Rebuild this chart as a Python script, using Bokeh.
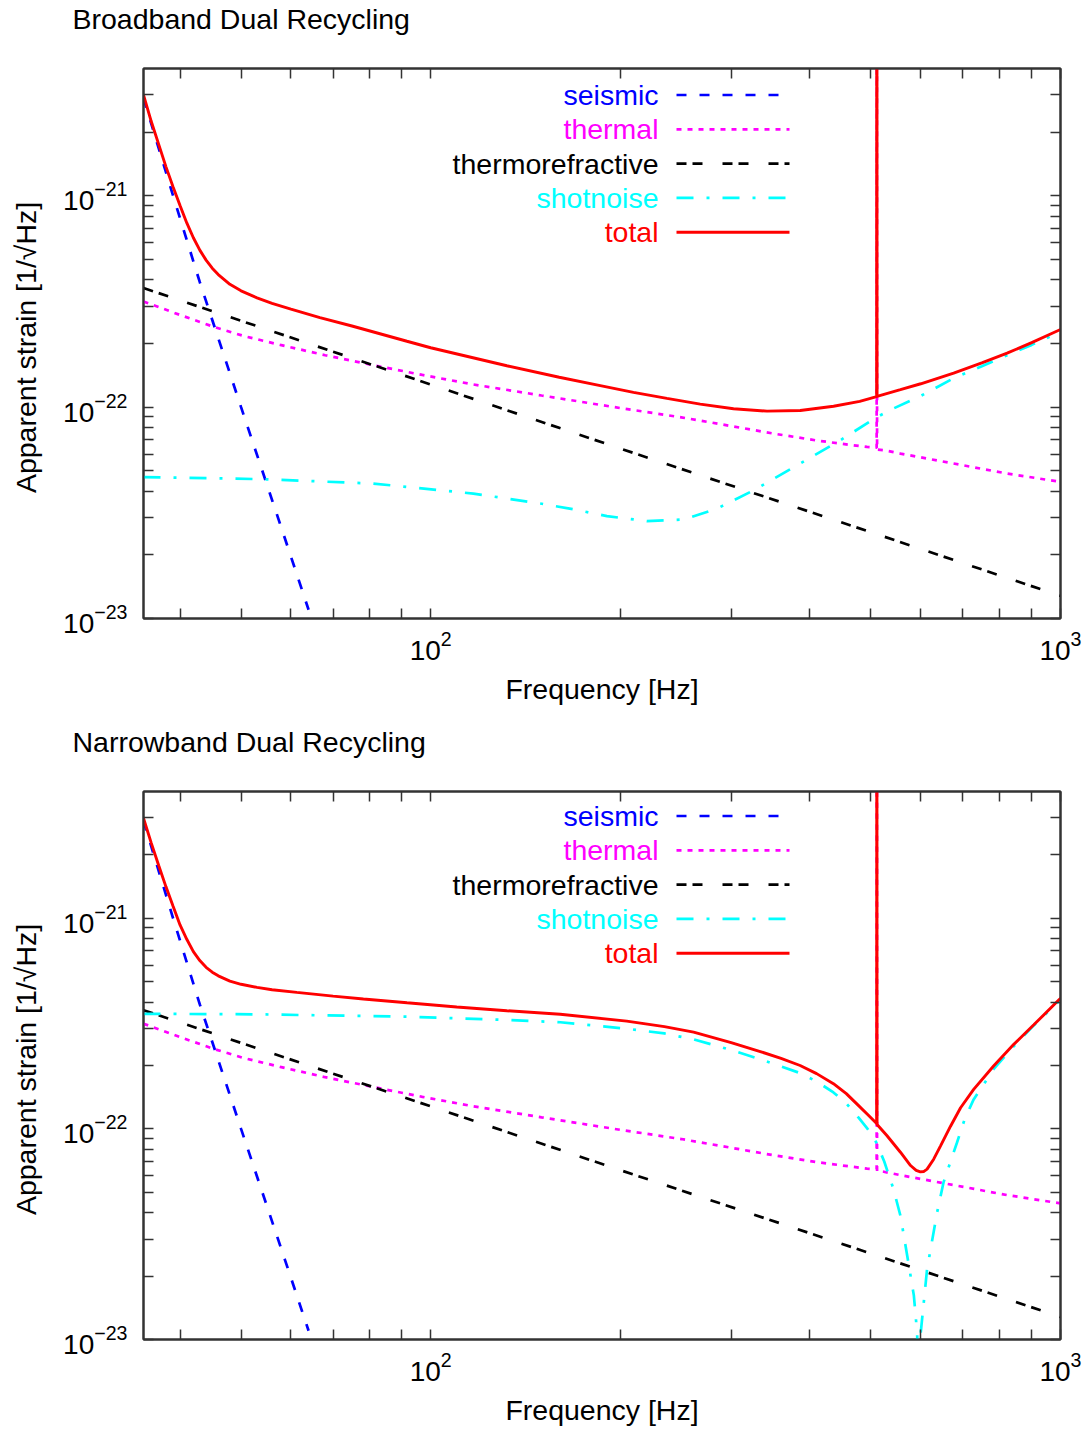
from bokeh.plotting import figure
from bokeh.models import FixedTicker, LogAxis, Label, Arrow, Range1d
from bokeh.layouts import column
from bokeh.embed import file_html
from bokeh.resources import INLINE

# ---------------- data ----------------
freq_min, freq_max = 35, 1000
strain_min, strain_max = 1e-23, 4e-21

x_major_ticks = [100, 1000]
x_minor_ticks = [40, 50, 60, 70, 80, 90, 200, 300, 400, 500, 600, 700, 800, 900]
y_major_ticks = [1e-23, 1e-22, 1e-21]
y_minor_ticks = [2e-23, 3e-23, 4e-23, 5e-23, 6e-23, 7e-23, 8e-23, 9e-23,
                 2e-22, 3e-22, 4e-22, 5e-22, 6e-22, 7e-22, 8e-22, 9e-22,
                 2e-21, 3e-21]

# common noise sources (identical in both panels)
seismic_f = [35, 39, 43, 50, 58.7, 64]
seismic_h = [2.9e-21, 1.0e-21, 3.9e-22, 1.0e-22, 2.39e-23, 1.1e-23]

thermal_f = [35, 40, 45.2, 50.5, 57.7, 68, 81.1, 97, 116.9, 150, 200, 250, 302.6,
             350, 410.6, 460, 493, 510.6, 511, 511.4, 524, 557, 676.6, 822.7, 1000]
thermal_h = [3.16e-22, 2.73e-22, 2.40e-22, 2.17e-22, 1.97e-22, 1.76e-22, 1.58e-22,
             1.42e-22, 1.28e-22, 1.135e-22, 9.9e-23, 8.95e-23, 8.1e-23, 7.5e-23,
             6.95e-23, 6.65e-23, 6.48e-23, 6.43e-23, 1e-19, 6.3e-23, 6.26e-23,
             6.03e-23, 5.41e-23, 4.85e-23, 4.43e-23]

tr_f = [35, 100, 200, 500, 1000]
tr_h = [3.66e-22, 1.28e-22, 6.37e-23, 2.56e-23, 1.28e-23]

# broadband dual recycling
shot_bb_f = [35, 54.3, 81.1, 116.9, 149.3, 170, 190.5, 220.4, 252, 284.8, 325.6,
             386.2, 447.1, 511, 543.3, 600, 676.6, 750, 822.7, 900, 1000]
shot_bb_h = [4.67e-23, 4.56e-23, 4.35e-23, 3.9e-23, 3.5e-23, 3.27e-23, 3.05e-23,
             2.89e-23, 2.94e-23, 3.31e-23, 4.04e-23, 5.41e-23, 6.97e-23, 8.97e-23,
             9.86e-23, 1.13e-22, 1.37e-22, 1.56e-22, 1.76e-22, 1.97e-22, 2.27e-22]
total_bb_f = [35, 36, 37, 38, 39, 40, 41, 42, 43, 44, 45, 46, 48, 50, 53, 56, 60,
              66.7, 75, 91.7, 100, 132.1, 160, 185.9, 209.9, 237.2, 267.9, 302.6,
              342, 386.2, 436.2, 480, 510.6, 511, 511.4, 557, 600, 676.6, 750,
              822.7, 900, 1000]
total_bb_h = [3.0e-21, 2.25e-21, 1.75e-21, 1.37e-21, 1.10e-21, 9.0e-22, 7.44e-22,
              6.33e-22, 5.53e-22, 4.96e-22, 4.54e-22, 4.24e-22, 3.81e-22, 3.55e-22,
              3.29e-22, 3.10e-22, 2.91e-22, 2.65e-22, 2.42e-22, 2.05e-22, 1.91e-22,
              1.57e-22, 1.385e-22, 1.265e-22, 1.175e-22, 1.10e-22, 1.033e-22,
              9.82e-23, 9.57e-23, 9.64e-23, 1.01e-22, 1.064e-22, 1.12e-22, 1e-19,
              1.125e-22, 1.21e-22, 1.29e-22, 1.45e-22, 1.62e-22, 1.80e-22,
              2.02e-22, 2.33e-22]

# narrowband dual recycling
shot_nb_f = [35, 52.9, 91.7, 132.1, 160.6, 204.8, 235, 261.5, 300, 333.7, 360, 386,
             410, 436, 457, 478, 494, 510, 525, 543, 557, 571, 585, 592, 596, 600,
             614, 637, 652, 685, 705, 728, 783, 843, 907, 1000]
shot_nb_h = [3.52e-22, 3.50e-22, 3.41e-22, 3.29e-22, 3.21e-22, 2.99e-22, 2.84e-22,
             2.66e-22, 2.37e-22, 2.14e-22, 1.98e-22, 1.84e-22, 1.68e-22, 1.49e-22,
             1.32e-22, 1.13e-22, 1.0e-22, 8.62e-23, 7.0e-23, 5.18e-23, 3.87e-23,
             2.5e-23, 1.62e-23, 1.08e-23, 5e-24, 1.08e-23, 2.16e-23, 4.02e-23,
             5.57e-23, 8.62e-23, 1.12e-22, 1.38e-22, 1.92e-22, 2.47e-22, 3.1e-22,
             4.1e-22]
total_nb_f = [35, 36, 37, 38, 39, 40, 41, 42, 43, 44, 45, 46, 48, 50, 53, 56, 61.3,
              70, 78.2, 91.7, 110, 132.1, 160.6, 204.8, 235, 261.5, 300, 333.7, 360,
              386, 410, 436, 457, 478, 495, 510.6, 511, 511.4, 530, 557, 578, 590,
              599, 607, 614, 629, 645, 669, 694, 728, 783, 843, 907, 1000]
total_nb_h = [2.99e-21, 2.28e-21, 1.78e-21, 1.41e-21, 1.14e-21, 9.3e-22, 7.95e-22,
              6.95e-22, 6.3e-22, 5.85e-22, 5.55e-22, 5.33e-22, 5.03e-22, 4.86e-22,
              4.70e-22, 4.58e-22, 4.45e-22, 4.27e-22, 4.14e-22, 3.97e-22, 3.79e-22,
              3.64e-22, 3.50e-22, 3.25e-22, 3.06e-22, 2.88e-22, 2.57e-22, 2.33e-22,
              2.16e-22, 2.0e-22, 1.83e-22, 1.64e-22, 1.47e-22, 1.29e-22, 1.165e-22,
              1.06e-22, 1e-19, 1.05e-22, 9.3e-23, 7.75e-23, 6.7e-23, 6.35e-23,
              6.25e-23, 6.28e-23, 6.44e-23, 7.18e-23, 8.31e-23, 1.03e-22, 1.26e-22,
              1.54e-22, 1.99e-22, 2.52e-22, 3.12e-22, 4.17e-22]

series_labels = ["seismic", "thermal", "thermorefractive", "shotnoise", "total"]
series_colors = ["#0000ff", "#ff00ff", "#000000", "#00ffff", "#ff0000"]
series_dashes = ["10 13", "5 6", "10 6 10 20", "17 13 3 13", "solid"]
series_widths = [2.7, 2.7, 2.7, 2.7, 2.9]

titles = ["Broadband Dual Recycling", "Narrowband Dual Recycling"]
x_label = "Frequency [Hz]"
y_label = "Apparent strain  [1/\u221aHz]"

# ---------------- styling ----------------
FONT = "Liberation Sans"
FS = "28.5px"
TICK_FS = "28px"
FRAME = "#333333"
WIDTH = 1082
TITLE_H = 40


def style_axis(ax):
    ax.major_tick_in = 10
    ax.major_tick_out = 0
    ax.minor_tick_in = 10
    ax.minor_tick_out = 0
    ax.axis_line_color = FRAME
    ax.axis_line_width = 2
    ax.major_tick_line_color = FRAME
    ax.major_tick_line_width = 1.5
    ax.minor_tick_line_color = FRAME
    ax.minor_tick_line_width = 1.5
    ax.major_label_text_font = FONT
    ax.major_label_text_font_size = TICK_FS
    ax.major_label_text_color = "black"
    ax.axis_label_text_font = FONT
    ax.axis_label_text_font_size = FS
    ax.axis_label_text_font_style = "normal"
    ax.axis_label_text_color = "black"


def title_strip(text):
    # a thin strip whose only content is the panel title
    t = figure(width=WIDTH, height=TITLE_H, x_range=Range1d(0, 1), y_range=Range1d(0, 1),
               output_backend="svg", toolbar_location=None,
               x_axis_location=None, y_axis_location=None, min_border=0)
    t.xgrid.visible = False
    t.ygrid.visible = False
    t.outline_line_color = None
    t.background_fill_color = "white"
    t.border_fill_color = "white"
    t.title.text = text
    t.title.align = "left"
    t.title.vertical_align = "bottom"
    t.title.offset = -71
    t.title.standoff = 0
    t.title.text_font = FONT
    t.title.text_font_size = FS
    t.title.text_font_style = "normal"
    t.title.text_color = "black"
    return t


def build(height, bottom_border, shot_f, shot_h, tot_f, tot_h):
    p = figure(width=WIDTH, height=height, x_axis_type="log", y_axis_type="log",
               x_range=Range1d(freq_min, freq_max),
               y_range=Range1d(strain_min, strain_max),
               output_backend="svg", toolbar_location=None,
               min_border_left=143, min_border_right=22, min_border_top=28,
               min_border_bottom=bottom_border)
    p.xgrid.visible = False
    p.ygrid.visible = False
    p.outline_line_color = FRAME
    p.outline_line_width = 2
    p.background_fill_color = "white"
    p.border_fill_color = "white"

    xa = p.xaxis[0]
    xa.ticker = FixedTicker(ticks=x_major_ticks, minor_ticks=x_minor_ticks)
    style_axis(xa)
    xa.axis_label = x_label
    xa.major_label_standoff = 12
    xa.axis_label_standoff = 10

    ya = p.yaxis[0]
    ya.ticker = FixedTicker(ticks=y_major_ticks, minor_ticks=y_minor_ticks)
    style_axis(ya)
    ya.axis_label = y_label
    ya.major_label_standoff = 16
    ya.axis_label_standoff = 18

    # mirrored tick marks on top and right (no labels)
    top = LogAxis(ticker=FixedTicker(ticks=[], minor_ticks=x_major_ticks + x_minor_ticks))
    style_axis(top)
    p.add_layout(top, "above")
    right = LogAxis(ticker=FixedTicker(ticks=[], minor_ticks=y_major_ticks + y_minor_ticks))
    style_axis(right)
    p.add_layout(right, "right")

    series = [(seismic_f, seismic_h), (thermal_f, thermal_h), (tr_f, tr_h),
              (shot_f, shot_h), (tot_f, tot_h)]
    for (f, h), color, dash, lw in zip(series, series_colors, series_dashes, series_widths):
        p.line(f, h, line_color=color, line_dash=dash, line_width=lw)

    # legend: label right-aligned, sample line to the right
    for i, (lab, color, dash, lw) in enumerate(zip(series_labels, series_colors,
                                                   series_dashes, series_widths)):
        yy = 523.5 - i * 34.3
        p.add_layout(Label(x=515, y=yy, x_units="screen", y_units="screen", text=lab,
                           text_align="right", text_baseline="middle", text_color=color,
                           text_font=FONT, text_font_size=FS))
        p.add_layout(Arrow(x_start=533, y_start=yy, x_end=646, y_end=yy,
                           start_units="screen", end_units="screen", start=None, end=None,
                           line_color=color, line_dash=dash, line_width=lw))
    return p


t1 = title_strip(titles[0])
p1 = build(723 - TITLE_H, 105, shot_bb_f, shot_bb_h, total_bb_f, total_bb_h)
t2 = title_strip(titles[1])
p2 = build(705 - TITLE_H, 87, shot_nb_f, shot_nb_h, total_nb_f, total_nb_h)

layout = column(t1, p1, t2, p2, spacing=0)
open("out.html", "w").write(file_html(layout, INLINE))
